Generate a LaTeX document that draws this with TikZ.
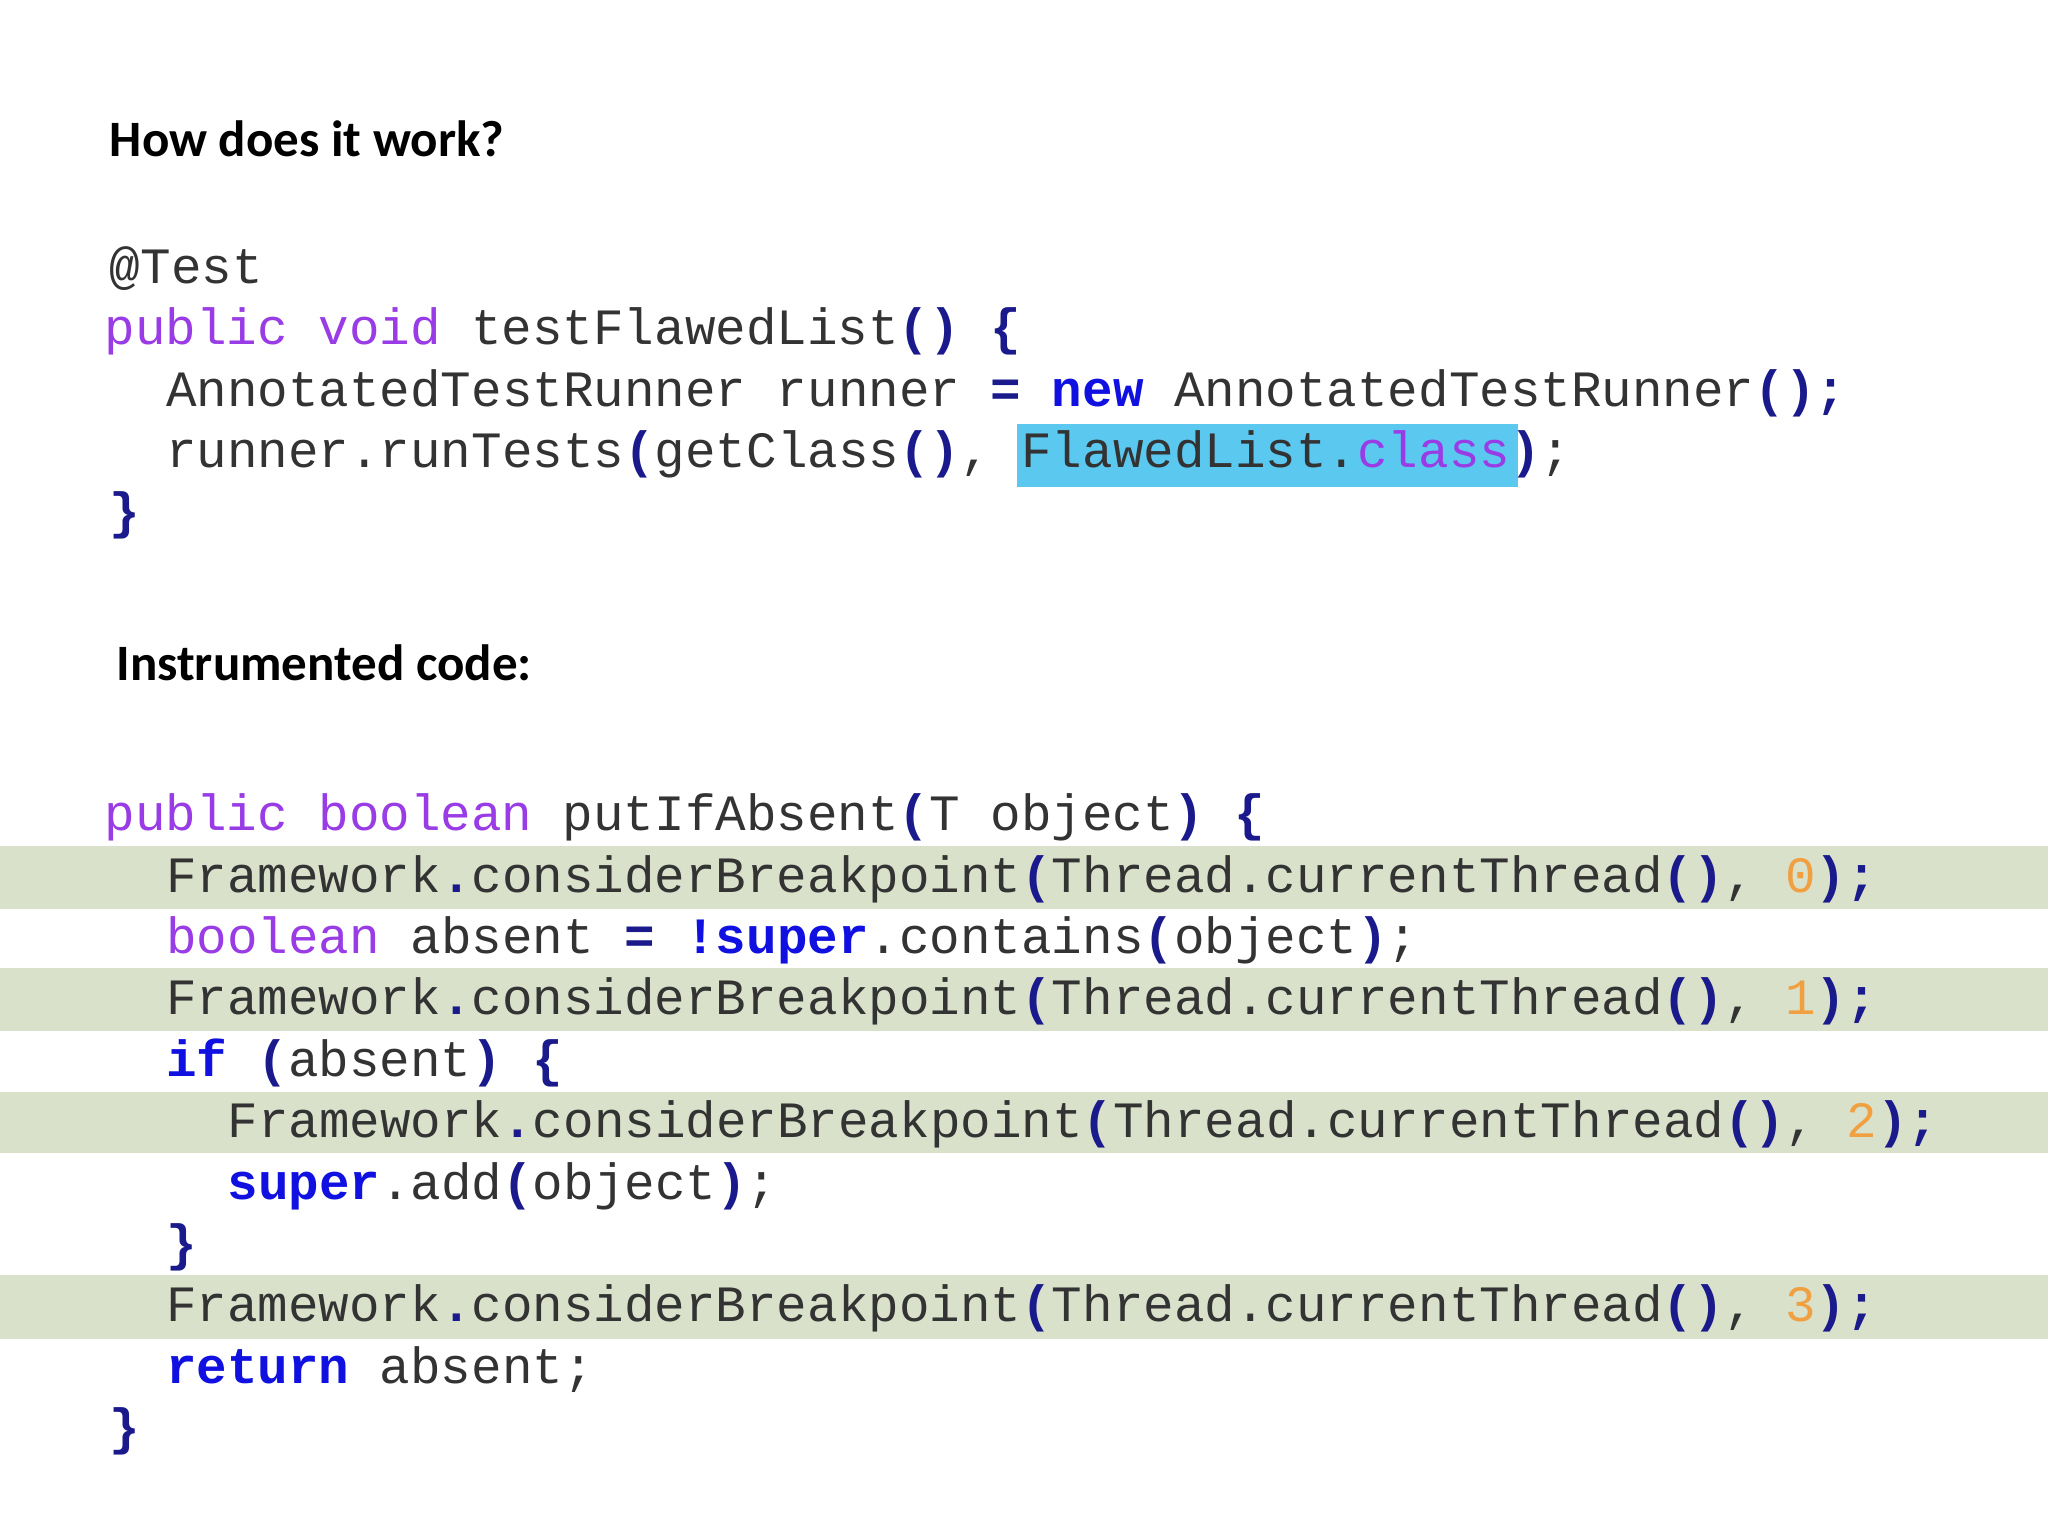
\documentclass[tikz,border=0pt]{standalone}
\usepackage{fontspec}
\setmonofont{Liberation Mono}
\newfontfamily\headfont{Carlito}
\definecolor{txt}{HTML}{333333}
\definecolor{navy}{HTML}{1A1A8C}
\definecolor{kblue}{HTML}{1010E0}
\definecolor{kpur}{HTML}{9A3CE6}
\definecolor{knum}{HTML}{F0A040}
\definecolor{band}{HTML}{D9E1CB}
\definecolor{hl}{HTML}{5BC8F0}
\newcommand{\kw}[1]{\textcolor{kpur}{#1}}
\newcommand{\kb}[1]{\textcolor{kblue}{\bfseries #1}}
\newcommand{\pn}[1]{\textcolor{navy}{\bfseries #1}}
\newcommand{\nm}[1]{\textcolor{knum}{#1}}
\begin{document}
\begin{tikzpicture}[x=1.306pt,y=-1.306pt,
  code/.style={anchor=base west,inner sep=0pt,text=txt,font=\ttfamily\fontsize{50.9}{60}\selectfont},
  head/.style={anchor=base west,inner sep=0pt,font=\headfont\bfseries\fontsize{51}{58}\selectfont}]
\fill[white] (0,0) rectangle (1568,1176);
\useasboundingbox (0,0) rectangle (1568,1176);
\foreach \a/\b in {648/696,741/789,836/883,976/1025}
  \fill[band] (0,\a) rectangle (1568,\b);
\fill[hl] (779,325) rectangle (1162,373);
\node[head] (t1) at (84,120) {How does it work?};
\node[head] (t2) at (89,521) {Instrumented code:};
\node[code] (a1) at (84,217) {@Test};
\node[code] (a2) at (80,264) {\kw{public void} testFlawedList\pn{() \{}};
\node[code] (a3) at (127,311) {AnnotatedTestRunner runner \pn{=} \kb{new} AnnotatedTestRunner\pn{();}};
\node[code] (a4) at (127,358) {runner.runTests\pn{(}getClass\pn{()}, FlawedList.\kw{class}\pn{)};};
\node[code] (a5) at (84,405) {\pn{\}}};
\node[code] (b1) at (80,636) {\kw{public boolean} putIfAbsent\pn{(}T object\pn{) \{}};
\node[code] (b2) at (127,683) {Framework\pn{.}considerBreakpoint\pn{(}Thread.currentThread\pn{()}, \nm{0}\pn{);}};
\node[code] (b3) at (127,730) {\kw{boolean} absent \pn{=} \kb{!super}.contains\pn{(}object\pn{)};};
\node[code] (b4) at (127,777) {Framework\pn{.}considerBreakpoint\pn{(}Thread.currentThread\pn{()}, \nm{1}\pn{);}};
\node[code] (b5) at (127,824) {\kb{if} \pn{(}absent\pn{) \{}};
\node[code] (b6) at (174,871) {Framework\pn{.}considerBreakpoint\pn{(}Thread.currentThread\pn{()}, \nm{2}\pn{);}};
\node[code] (b7) at (174,918) {\kb{super}.add\pn{(}object\pn{)};};
\node[code] (b8) at (127,965) {\pn{\}}};
\node[code] (b9) at (127,1012) {Framework\pn{.}considerBreakpoint\pn{(}Thread.currentThread\pn{()}, \nm{3}\pn{);}};
\node[code] (b10) at (127,1059) {\kb{return} absent;};
\node[code] (b11) at (84,1106) {\pn{\}}};
\end{tikzpicture}
\end{document}
